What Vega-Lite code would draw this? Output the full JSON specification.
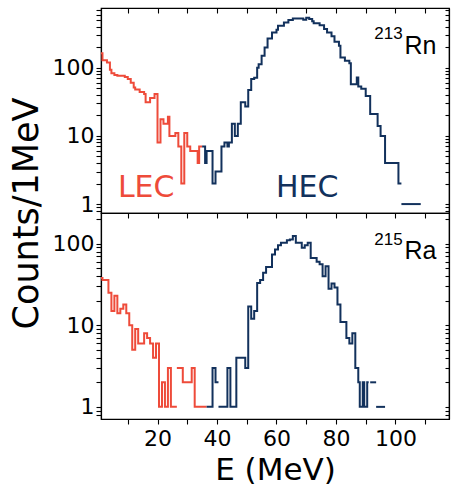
{
  "$schema": "https://vega.github.io/schema/vega-lite/v6.json",
  "padding": {"left": 8, "top": 6, "right": 2, "bottom": 0},
  "spacing": 0,
  "bounds": "flush",
  "config": {
    "font": "DejaVu Sans",
    "view": {"stroke": "black", "strokeWidth": 1.2},
    "axis": {"grid": false, "domainColor": "black", "tickColor": "black", "labelColor": "black", "titleColor": "black", "labelFont": "DejaVu Sans", "titleFont": "DejaVu Sans", "labelFontSize": 22, "titleFontWeight": "normal", "tickWidth": 1.1, "domainWidth": 1.2}
  },
  "datasets": {
    "topLine": [
      {"E": 0, "count": 163, "series": "LEC", "seg": "t1"},
      {"E": 1.5, "count": 129, "series": "LEC", "seg": "t1"},
      {"E": 3, "count": 119, "series": "LEC", "seg": "t1"},
      {"E": 4, "count": 93, "series": "LEC", "seg": "t1"},
      {"E": 4.5, "count": 83, "series": "LEC", "seg": "t1"},
      {"E": 5.5, "count": 78, "series": "LEC", "seg": "t1"},
      {"E": 6.5, "count": 76, "series": "LEC", "seg": "t1"},
      {"E": 9, "count": 73, "series": "LEC", "seg": "t1"},
      {"E": 10, "count": 68, "series": "LEC", "seg": "t1"},
      {"E": 11, "count": 60, "series": "LEC", "seg": "t1"},
      {"E": 12, "count": 51, "series": "LEC", "seg": "t1"},
      {"E": 12.5, "count": 48, "series": "LEC", "seg": "t1"},
      {"E": 14, "count": 44, "series": "LEC", "seg": "t1"},
      {"E": 15.5, "count": 41, "series": "LEC", "seg": "t1"},
      {"E": 16, "count": 31, "series": "LEC", "seg": "t1"},
      {"E": 17.5, "count": 36, "series": "LEC", "seg": "t1"},
      {"E": 19, "count": 41, "series": "LEC", "seg": "t1"},
      {"E": 20, "count": 8, "series": "LEC", "seg": "t1"},
      {"E": 21, "count": 17.5, "series": "LEC", "seg": "t1"},
      {"E": 22, "count": 15, "series": "LEC", "seg": "t1"},
      {"E": 23.5, "count": 19, "series": "LEC", "seg": "t1"},
      {"E": 24, "count": 10, "series": "LEC", "seg": "t1"},
      {"E": 26, "count": 11, "series": "LEC", "seg": "t1"},
      {"E": 27, "count": 7, "series": "LEC", "seg": "t1"},
      {"E": 28, "count": 2, "series": "LEC", "seg": "t1"},
      {"E": 29, "count": 11, "series": "LEC", "seg": "t1"},
      {"E": 30, "count": 7, "series": "LEC", "seg": "t1"},
      {"E": 31, "count": 6, "series": "LEC", "seg": "t1"},
      {"E": 33.5, "count": 4, "series": "LEC", "seg": "t1"},
      {"E": 34, "count": 7, "series": "LEC", "seg": "t1"},
      {"E": 35, "count": 7, "series": "LEC", "seg": "t1"},
      {"E": 35, "count": 7, "series": "HEC", "seg": "h1"},
      {"E": 36, "count": 4, "series": "HEC", "seg": "h1"},
      {"E": 36.5, "count": 6, "series": "HEC", "seg": "h1"},
      {"E": 38.5, "count": 2, "series": "HEC", "seg": "h1"},
      {"E": 39.5, "count": 3, "series": "HEC", "seg": "h1"},
      {"E": 41.5, "count": 7, "series": "HEC", "seg": "h1"},
      {"E": 42.5, "count": 8, "series": "HEC", "seg": "h1"},
      {"E": 43.5, "count": 7, "series": "HEC", "seg": "h1"},
      {"E": 44, "count": 8, "series": "HEC", "seg": "h1"},
      {"E": 45, "count": 15, "series": "HEC", "seg": "h1"},
      {"E": 46, "count": 10, "series": "HEC", "seg": "h1"},
      {"E": 47, "count": 15, "series": "HEC", "seg": "h1"},
      {"E": 48, "count": 31, "series": "HEC", "seg": "h1"},
      {"E": 49.5, "count": 27, "series": "HEC", "seg": "h1"},
      {"E": 50.5, "count": 47, "series": "HEC", "seg": "h1"},
      {"E": 51.5, "count": 68, "series": "HEC", "seg": "h1"},
      {"E": 52.5, "count": 71, "series": "HEC", "seg": "h1"},
      {"E": 53.5, "count": 100, "series": "HEC", "seg": "h1"},
      {"E": 54, "count": 112, "series": "HEC", "seg": "h1"},
      {"E": 55, "count": 150, "series": "HEC", "seg": "h1"},
      {"E": 56, "count": 197, "series": "HEC", "seg": "h1"},
      {"E": 57, "count": 268, "series": "HEC", "seg": "h1"},
      {"E": 58.5, "count": 328, "series": "HEC", "seg": "h1"},
      {"E": 60, "count": 360, "series": "HEC", "seg": "h1"},
      {"E": 60.5, "count": 412, "series": "HEC", "seg": "h1"},
      {"E": 62.5, "count": 460, "series": "HEC", "seg": "h1"},
      {"E": 64, "count": 500, "series": "HEC", "seg": "h1"},
      {"E": 65.5, "count": 528, "series": "HEC", "seg": "h1"},
      {"E": 69, "count": 505, "series": "HEC", "seg": "h1"},
      {"E": 70, "count": 540, "series": "HEC", "seg": "h1"},
      {"E": 71, "count": 516, "series": "HEC", "seg": "h1"},
      {"E": 72, "count": 480, "series": "HEC", "seg": "h1"},
      {"E": 72.5, "count": 450, "series": "HEC", "seg": "h1"},
      {"E": 74.5, "count": 420, "series": "HEC", "seg": "h1"},
      {"E": 76, "count": 368, "series": "HEC", "seg": "h1"},
      {"E": 77, "count": 328, "series": "HEC", "seg": "h1"},
      {"E": 78.5, "count": 288, "series": "HEC", "seg": "h1"},
      {"E": 79.5, "count": 240, "series": "HEC", "seg": "h1"},
      {"E": 81, "count": 209, "series": "HEC", "seg": "h1"},
      {"E": 81.5, "count": 141, "series": "HEC", "seg": "h1"},
      {"E": 83, "count": 126, "series": "HEC", "seg": "h1"},
      {"E": 84.5, "count": 116, "series": "HEC", "seg": "h1"},
      {"E": 85, "count": 57, "series": "HEC", "seg": "h1"},
      {"E": 87, "count": 72, "series": "HEC", "seg": "h1"},
      {"E": 87.5, "count": 53, "series": "HEC", "seg": "h1"},
      {"E": 88.5, "count": 49, "series": "HEC", "seg": "h1"},
      {"E": 90, "count": 38.5, "series": "HEC", "seg": "h1"},
      {"E": 91.5, "count": 21, "series": "HEC", "seg": "h1"},
      {"E": 94, "count": 14, "series": "HEC", "seg": "h1"},
      {"E": 95, "count": 10, "series": "HEC", "seg": "h1"},
      {"E": 96.5, "count": 4, "series": "HEC", "seg": "h1"},
      {"E": 101, "count": 2, "series": "HEC", "seg": "h1"},
      {"E": 102, "count": 2, "series": "HEC", "seg": "h1"},
      {"E": 102, "count": 1, "series": "HEC", "seg": "h2"},
      {"E": 108.5, "count": 1, "series": "HEC", "seg": "h2"}
    ],
    "bottomLine": [
      {"E": -0.5, "count": 38, "series": "LEC", "seg": "b1"},
      {"E": 1.5, "count": 36, "series": "LEC", "seg": "b1"},
      {"E": 3.5, "count": 25, "series": "LEC", "seg": "b1"},
      {"E": 4.5, "count": 15, "series": "LEC", "seg": "b1"},
      {"E": 5.5, "count": 23, "series": "LEC", "seg": "b1"},
      {"E": 6.5, "count": 14, "series": "LEC", "seg": "b1"},
      {"E": 7.5, "count": 16, "series": "LEC", "seg": "b1"},
      {"E": 8.5, "count": 18, "series": "LEC", "seg": "b1"},
      {"E": 9.5, "count": 14, "series": "LEC", "seg": "b1"},
      {"E": 10.5, "count": 10, "series": "LEC", "seg": "b1"},
      {"E": 11.5, "count": 5, "series": "LEC", "seg": "b1"},
      {"E": 12.5, "count": 9, "series": "LEC", "seg": "b1"},
      {"E": 13.5, "count": 6, "series": "LEC", "seg": "b1"},
      {"E": 15.5, "count": 8, "series": "LEC", "seg": "b1"},
      {"E": 16.5, "count": 7, "series": "LEC", "seg": "b1"},
      {"E": 17.5, "count": 6, "series": "LEC", "seg": "b1"},
      {"E": 18.5, "count": 4, "series": "LEC", "seg": "b1"},
      {"E": 19.5, "count": 6, "series": "LEC", "seg": "b1"},
      {"E": 20.5, "count": 1, "series": "LEC", "seg": "b1"},
      {"E": 21.5, "count": 2, "series": "LEC", "seg": "b1"},
      {"E": 22.5, "count": 1, "series": "LEC", "seg": "b1"},
      {"E": 23.5, "count": 3, "series": "LEC", "seg": "b1"},
      {"E": 24.5, "count": 1, "series": "LEC", "seg": "b1"},
      {"E": 26.5, "count": 1, "series": "LEC", "seg": "b1"},
      {"E": 26.5, "count": 3, "series": "LEC", "seg": "b2"},
      {"E": 28.5, "count": 2, "series": "LEC", "seg": "b2"},
      {"E": 31.5, "count": 3, "series": "LEC", "seg": "b2"},
      {"E": 32.5, "count": 1, "series": "LEC", "seg": "b2"},
      {"E": 36.5, "count": 1, "series": "LEC", "seg": "b2"},
      {"E": 36.5, "count": 1, "series": "HEC", "seg": "b3"},
      {"E": 38.5, "count": 3, "series": "HEC", "seg": "b3"},
      {"E": 39.5, "count": 2, "series": "HEC", "seg": "b3"},
      {"E": 40.5, "count": 2, "series": "HEC", "seg": "b3"},
      {"E": 40.5, "count": 1, "series": "HEC", "seg": "b4"},
      {"E": 43.5, "count": 3, "series": "HEC", "seg": "b4"},
      {"E": 44.5, "count": 1, "series": "HEC", "seg": "b4"},
      {"E": 46.5, "count": 4, "series": "HEC", "seg": "b4"},
      {"E": 49.5, "count": 3, "series": "HEC", "seg": "b4"},
      {"E": 50.5, "count": 17, "series": "HEC", "seg": "b4"},
      {"E": 51.5, "count": 12, "series": "HEC", "seg": "b4"},
      {"E": 52.5, "count": 15, "series": "HEC", "seg": "b4"},
      {"E": 53.5, "count": 33, "series": "HEC", "seg": "b4"},
      {"E": 54.5, "count": 36, "series": "HEC", "seg": "b4"},
      {"E": 55.5, "count": 44, "series": "HEC", "seg": "b4"},
      {"E": 56.5, "count": 52, "series": "HEC", "seg": "b4"},
      {"E": 58.5, "count": 74, "series": "HEC", "seg": "b4"},
      {"E": 59.5, "count": 85, "series": "HEC", "seg": "b4"},
      {"E": 60.5, "count": 96, "series": "HEC", "seg": "b4"},
      {"E": 61.5, "count": 103, "series": "HEC", "seg": "b4"},
      {"E": 63.5, "count": 110, "series": "HEC", "seg": "b4"},
      {"E": 64.5, "count": 113, "series": "HEC", "seg": "b4"},
      {"E": 65.5, "count": 124, "series": "HEC", "seg": "b4"},
      {"E": 66.5, "count": 103, "series": "HEC", "seg": "b4"},
      {"E": 68.5, "count": 89, "series": "HEC", "seg": "b4"},
      {"E": 69.5, "count": 96, "series": "HEC", "seg": "b4"},
      {"E": 70.5, "count": 103, "series": "HEC", "seg": "b4"},
      {"E": 71.5, "count": 67, "series": "HEC", "seg": "b4"},
      {"E": 73.5, "count": 60, "series": "HEC", "seg": "b4"},
      {"E": 74.5, "count": 56, "series": "HEC", "seg": "b4"},
      {"E": 75.5, "count": 40, "series": "HEC", "seg": "b4"},
      {"E": 76.5, "count": 53, "series": "HEC", "seg": "b4"},
      {"E": 77.5, "count": 28, "series": "HEC", "seg": "b4"},
      {"E": 78.5, "count": 32.5, "series": "HEC", "seg": "b4"},
      {"E": 79.5, "count": 29, "series": "HEC", "seg": "b4"},
      {"E": 80.5, "count": 18, "series": "HEC", "seg": "b4"},
      {"E": 81.5, "count": 11, "series": "HEC", "seg": "b4"},
      {"E": 83.5, "count": 7, "series": "HEC", "seg": "b4"},
      {"E": 84.5, "count": 6, "series": "HEC", "seg": "b4"},
      {"E": 85.5, "count": 8, "series": "HEC", "seg": "b4"},
      {"E": 86.5, "count": 3, "series": "HEC", "seg": "b4"},
      {"E": 87.5, "count": 2, "series": "HEC", "seg": "b4"},
      {"E": 88, "count": 1, "series": "HEC", "seg": "b4"},
      {"E": 89, "count": 2, "series": "HEC", "seg": "b4"},
      {"E": 89.5, "count": 1, "series": "HEC", "seg": "b4"},
      {"E": 90.5, "count": 2, "series": "HEC", "seg": "b4"},
      {"E": 91, "count": 2, "series": "HEC", "seg": "b4"},
      {"E": 91.5, "count": 2, "series": "HEC", "seg": "b5"},
      {"E": 93.5, "count": 2, "series": "HEC", "seg": "b5"},
      {"E": 93.5, "count": 1, "series": "HEC", "seg": "b6"},
      {"E": 96.5, "count": 1, "series": "HEC", "seg": "b6"}
    ]
  },
  "vconcat": [
    {
      "width": 348,
      "height": 205,
      "resolve": {"axis": {"x": "independent", "y": "independent"}},
      "layer": [
        {
          "data": {"name": "topLine"},
          "mark": {"type": "line", "interpolate": "step-after", "strokeWidth": 2, "clip": true},
          "encoding": {
            "x": {"field": "E", "type": "quantitative", "scale": {"domain": [1, 118], "nice": false, "zero": false}, "axis": null},
            "y": {"field": "count", "type": "quantitative",
              "scale": {"type": "log", "domain": [0.74, 750], "nice": false},
              "axis": {"orient": "left", "values": [0.8,0.9,1,2,3,4,5,6,7,8,9,10,20,30,40,50,60,70,80,90,100,200,300,400,500,600,700],
                "labelExpr": "datum.value == 1 || datum.value == 10 || datum.value == 100 ? '' + datum.value : ''",
                "tickSize": 5, "labelPadding": 2,
                "title": "Counts/1MeV", "titleFontSize": 35, "titleAngle": 270, "titleX": -75, "titleY": 205, "titleBaseline": "middle", "titleAlign": "center"}},
            "color": {"field": "series", "type": "nominal", "scale": {"domain": ["LEC", "HEC"], "range": ["#ee4b3a", "#12315c"]}, "legend": null},
            "detail": {"field": "seg"}
          }
        },
        {
          "data": {"values": [{"series": "LEC", "E": 16.2, "count": 1.72}, {"series": "HEC", "E": 70.3, "count": 1.72}]},
          "mark": {"type": "text", "fontSize": 30, "baseline": "middle", "align": "center"},
          "encoding": {
            "x": {"field": "E", "type": "quantitative", "axis": {"orient": "top", "values": [10,20,30,40,50,60,70,80,90,100,110], "labels": false, "tickSize": -5, "title": null}},
            "y": {"field": "count", "type": "quantitative", "axis": {"orient": "right", "values": [0.8,0.9,1,2,3,4,5,6,7,8,9,10,20,30,40,50,60,70,80,90,100,200,300,400,500,600,700], "labels": false, "tickSize": -4, "title": null}},
            "text": {"field": "series"},
            "color": {"field": "series", "type": "nominal", "legend": null}
          }
        },
        {
          "data": {"values": [{"iso": "213", "E": 102.4, "count": 310}]},
          "mark": {"type": "text", "font": "Liberation Sans", "fontSize": 17, "baseline": "middle", "align": "right", "color": "black"},
          "encoding": {
            "x": {"field": "E", "type": "quantitative", "axis": null},
            "y": {"field": "count", "type": "quantitative", "axis": null},
            "text": {"field": "iso"}
          }
        },
        {
          "data": {"values": [{"iso": "Rn", "E": 103, "count": 209}]},
          "mark": {"type": "text", "font": "Liberation Sans", "fontSize": 25, "baseline": "middle", "align": "left", "color": "black"},
          "encoding": {
            "x": {"field": "E", "type": "quantitative", "axis": null},
            "y": {"field": "count", "type": "quantitative", "axis": null},
            "text": {"field": "iso"}
          }
        }
      ]
    },
    {
      "width": 348,
      "height": 206,
      "resolve": {"axis": {"x": "independent", "y": "independent"}},
      "layer": [
        {
          "data": {"name": "bottomLine"},
          "mark": {"type": "line", "interpolate": "step-after", "strokeWidth": 2, "clip": true},
          "encoding": {
            "x": {"field": "E", "type": "quantitative", "scale": {"domain": [1, 118], "nice": false, "zero": false},
              "axis": {"orient": "bottom", "values": [10,20,30,40,50,60,70,80,90,100,110], "labelExpr": "datum.value % 20 == 0 ? '' + datum.value : ''", "tickSize": 5, "labelPadding": 4, "title": "E (MeV)", "titleFontSize": 31, "titlePadding": 6}},
            "y": {"field": "count", "type": "quantitative",
              "scale": {"type": "log", "domain": [0.71, 238], "nice": false},
              "axis": {"orient": "left", "values": [0.8,0.9,1,2,3,4,5,6,7,8,9,10,20,30,40,50,60,70,80,90,100,200],
                "labelExpr": "datum.value == 1 || datum.value == 10 || datum.value == 100 ? '' + datum.value : ''",
                "tickSize": 5, "labelPadding": 2, "title": null}},
            "color": {"field": "series", "type": "nominal", "scale": {"domain": ["LEC", "HEC"], "range": ["#ee4b3a", "#12315c"]}, "legend": null},
            "detail": {"field": "seg"}
          }
        },
        {
          "data": {"values": [{"iso": "Ra", "E": 103, "count": 80.5}]},
          "mark": {"type": "text", "font": "Liberation Sans", "fontSize": 25, "baseline": "middle", "align": "left", "color": "black"},
          "encoding": {
            "x": {"field": "E", "type": "quantitative", "axis": {"orient": "top", "values": [10,20,30,40,50,60,70,80,90,100,110], "labels": false, "tickSize": -5, "title": null}},
            "y": {"field": "count", "type": "quantitative", "axis": {"orient": "right", "values": [0.8,0.9,1,2,3,4,5,6,7,8,9,10,20,30,40,50,60,70,80,90,100,200], "labels": false, "tickSize": -4, "title": null}},
            "text": {"field": "iso"}
          }
        },
        {
          "data": {"values": [{"iso": "215", "E": 102.4, "count": 110}]},
          "mark": {"type": "text", "font": "Liberation Sans", "fontSize": 17, "baseline": "middle", "align": "right", "color": "black"},
          "encoding": {
            "x": {"field": "E", "type": "quantitative", "axis": null},
            "y": {"field": "count", "type": "quantitative", "axis": null},
            "text": {"field": "iso"}
          }
        }
      ]
    }
  ]
}
